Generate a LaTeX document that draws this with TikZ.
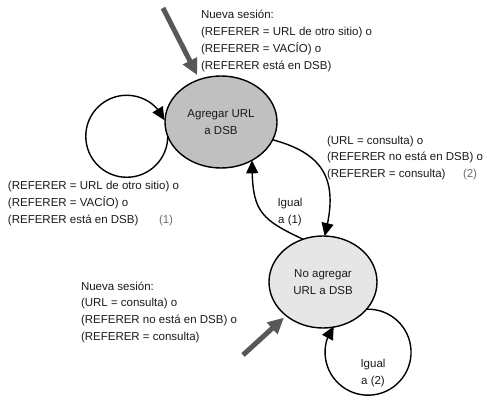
\documentclass[tikz,border=0pt]{standalone}
\usepackage{fontspec}
\setmainfont{Liberation Sans}
\usetikzlibrary{arrows.meta,bending,shapes.geometric}
\definecolor{txt}{HTML}{1A1A1A}
\definecolor{lbl}{HTML}{6E6E6E}
\definecolor{garr}{HTML}{585858}
\definecolor{fillA}{HTML}{C0C0C0}
\definecolor{fillB}{HTML}{E6E6E6}
\begin{document}
\begin{tikzpicture}[x=1pt,y=1pt,
  every node/.style={font=\fontsize{11.5}{16.7}\selectfont, text=txt, inner sep=0pt, outer sep=0pt},
  state/.style={ellipse, draw=black, line width=1.4pt, align=center},
  conn/.style={draw=black, line width=1.4pt, -{Triangle[length=13pt,width=12pt]}},
  garrow/.style={draw=garr, line width=5pt, -{Triangle[length=16pt,width=15pt]}},
  cond/.style={align=left, anchor=base west},
  num/.style={anchor=base west, text=lbl}]
\useasboundingbox (0,0) rectangle (487,399);
\node[state, fill=fillA, minimum width=112pt, minimum height=92pt] (A) at (221,277) {Agregar URL\\a DSB};
\node[state, fill=fillB, minimum width=108pt, minimum height=92pt] (B) at (323,117) {No agregar\\URL a DSB};
% loops
\draw[conn] (A.195) arc[start angle=0, end angle=-337, radius=41];
\draw[conn] (B.-32) arc[start angle=92, end angle=-217, radius=43];
% transitions
\draw[conn] (A.-19) to[out=-15, in=75, looseness=1.3] (B.88);
\draw[conn] (B.115) to[out=155, in=-90, looseness=1.35] (A.-51);
\node[align=center] (l1) at (290,187) {Igual\\a (1)};
\node[align=center] (l2) at (373,26) {Igual\\a (2)};
% entry arrows
\coordinate (s1) at (163,391);
\coordinate (s2) at (243,44);
\draw[garrow, shorten >=5pt] (s1) -- (A);
\draw[garrow, shorten >=3pt] (s2) -- (B);
% conditions (anchor = baseline of last line)
\node[cond] (t1) at (201,329.9) {Nueva sesión:\\(REFERER = URL de otro sitio) o\\(REFERER = VACÍO) o\\(REFERER está en DSB)};
\node[cond] (t2) at (8,175.6) {(REFERER = URL de otro sitio) o\\(REFERER = VACÍO) o\\(REFERER está en DSB)};
\node[num] (n1) at (159,175.6) {(1)};
\node[cond] (t3) at (327,221.3) {(URL = consulta) o\\(REFERER no está en DSB) o\\(REFERER = consulta)};
\node[num] (n2) at (463,221.3) {(2)};
\node[cond] (t4) at (81,58.9) {Nueva sesión:\\(URL = consulta) o\\(REFERER no está en DSB) o\\(REFERER = consulta)};
\end{tikzpicture}
\end{document}
